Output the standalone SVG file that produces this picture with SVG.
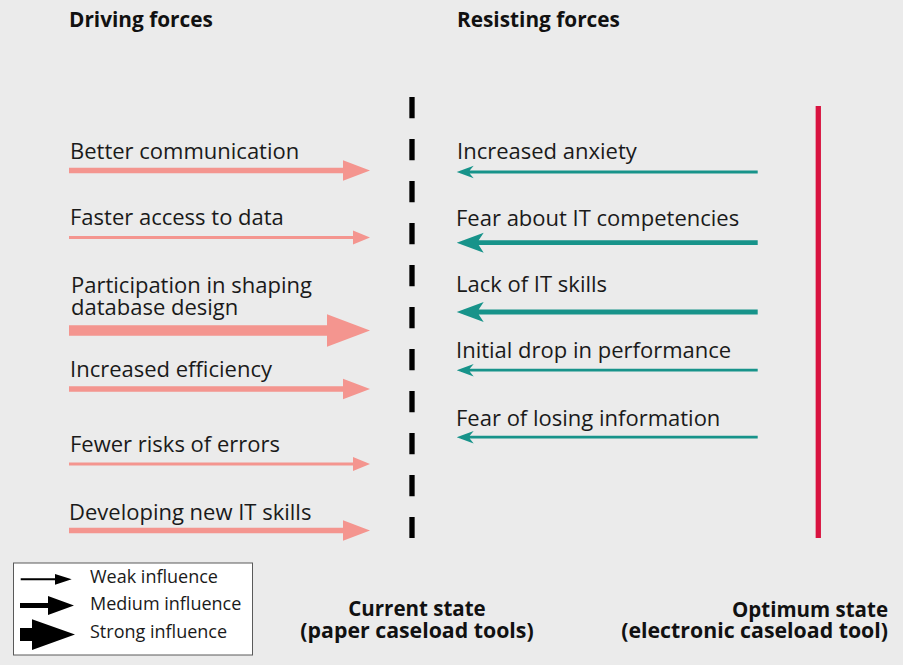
<svg xmlns="http://www.w3.org/2000/svg" xmlns:xlink="http://www.w3.org/1999/xlink" width="903" height="665" viewBox="0 0 903 665">
  <style>
    .lbl { font-family: "Open Sans", "Liberation Sans", sans-serif; font-size: 22px; fill: #1a1a1a; }
    .hdr { font-family: "Open Sans", "Liberation Sans", sans-serif; font-size: 20.8px; font-weight: bold; fill: #111; }
    .cap { font-family: "Open Sans", "Liberation Sans", sans-serif; font-size: 21.3px; font-weight: bold; fill: #111; }
    .leg { font-family: "Open Sans", "Liberation Sans", sans-serif; font-size: 18px; fill: #1a1a1a; }
    .drive { fill: #f4958f; }
    .resist { fill: #17938a; }
    .black { fill: #000; }
  </style>
  <defs>
    <!-- right-pointing arrows, tip at origin, 301px long -->
    <polygon id="pinkWeak" points="-301,-1.6 -17,-1.6 -17,-7 0,0 -17,7 -17,1.6 -301,1.6"/>
    <polygon id="pinkMed" points="-301,-2.8 -27,-2.8 -27,-10.3 0,0 -27,10.3 -27,2.8 -301,2.8"/>
    <polygon id="pinkStrong" points="-301,-5.3 -43,-5.3 -43,-16.2 0,0 -43,16.2 -43,5.3 -301,5.3"/>
    <!-- barbed heads for the resisting side -->
    <polygon id="tealWeak" points="-301,-1.4 -13,-1.4 -17,-6.3 0,0 -17,6.3 -13,1.4 -301,1.4"/>
    <polygon id="tealMed" points="-301,-2.4 -22,-2.4 -27,-10 0,0 -27,10 -22,2.4 -301,2.4"/>
  </defs>

  <rect x="0" y="0" width="903" height="665" fill="#ebebeb"/>

  <!-- column headings -->
  <text class="hdr" x="69" y="27">Driving forces</text>
  <text class="hdr" x="457" y="27">Resisting forces</text>

  <!-- state boundaries -->
  <g id="current-state-line">
    <line x1="412" y1="97" x2="412" y2="538" stroke="#000" stroke-width="5.3" stroke-dasharray="21.3 20.7"/>
  </g>
  <g id="optimum-state-line">
    <line x1="818.3" y1="106" x2="818.3" y2="538" stroke="#d91340" stroke-width="5.3"/>
  </g>

  <!-- driving forces -->
  <g id="drive-communication">
    <text class="lbl" x="70" y="159">Better communication</text>
  </g>
  <g id="drive-access">
    <text class="lbl" x="70" y="225">Faster access to data</text>
  </g>
  <g id="drive-participation">
    <text class="lbl" x="71" y="293">Participation in shaping<tspan x="71" dy="22">database design</tspan></text>
  </g>
  <g id="drive-efficiency">
    <text class="lbl" x="70" y="377">Increased efficiency</text>
  </g>
  <g id="drive-errors">
    <text class="lbl" x="70" y="452">Fewer risks of errors</text>
  </g>
  <g id="drive-skills">
    <text class="lbl" x="69" y="520">Developing new IT skills</text>
  </g>

  <!-- resisting forces -->
  <g id="resist-anxiety">
    <text class="lbl" x="457" y="159">Increased anxiety</text>
  </g>
  <g id="resist-competencies">
    <text class="lbl" x="456" y="226">Fear about IT competencies</text>
  </g>
  <g id="resist-skills">
    <text class="lbl" x="456" y="292">Lack of IT skills</text>
  </g>
  <g id="resist-performance">
    <text class="lbl" x="456" y="358">Initial drop in performance</text>
  </g>
  <g id="resist-information">
    <text class="lbl" x="456" y="426">Fear of losing information</text>
  </g>

  <!-- force arrows -->
  <g id="connectors">
    <use xlink:href="#pinkMed" class="drive" transform="translate(370,170.5)"/>
    <use xlink:href="#pinkWeak" class="drive" transform="translate(370,237.5)"/>
    <use xlink:href="#pinkStrong" class="drive" transform="translate(370,330.5)"/>
    <use xlink:href="#pinkMed" class="drive" transform="translate(370,389)"/>
    <use xlink:href="#pinkWeak" class="drive" transform="translate(370,464)"/>
    <use xlink:href="#pinkMed" class="drive" transform="translate(370,530.5)"/>

    <use xlink:href="#tealWeak" class="resist" transform="translate(456.7,172) scale(-1,1)"/>
    <use xlink:href="#tealMed" class="resist" transform="translate(456.7,242.7) scale(-1,1)"/>
    <use xlink:href="#tealMed" class="resist" transform="translate(456.7,312) scale(-1,1)"/>
    <use xlink:href="#tealWeak" class="resist" transform="translate(456.7,370.2) scale(-1,1)"/>
    <use xlink:href="#tealWeak" class="resist" transform="translate(456.7,437.2) scale(-1,1)"/>
  </g>

  <!-- key -->
  <g id="legend">
    <rect x="13.5" y="563" width="239" height="92" fill="#fff" stroke="#5a5a5a" stroke-width="1"/>
    <polygon class="black" points="20.7,578.3 55,578.3 55,574 71.7,579.3 55,584.7 55,580.3 20.7,580.3"/>
    <polygon class="black" points="20,603 48,603 48,596 74,605.5 48,615 48,608 20,608"/>
    <polygon class="black" points="20,628 32,628 32,619.3 75,634.5 32,650 32,641 20,641"/>
    <text class="leg" x="90" y="583">Weak influence</text>
    <text class="leg" x="90" y="610">Medium influence</text>
    <text class="leg" x="90" y="638">Strong influence</text>
  </g>

  <!-- state captions -->
  <g id="current-state">
    <text class="cap" x="417" y="616" text-anchor="middle"><tspan font-size="20.5px">Current state</tspan><tspan x="417" dy="22">(paper caseload tools)</tspan></text>
  </g>
  <g id="optimum-state">
    <text class="cap" x="888" y="617" text-anchor="end"><tspan font-size="20.5px">Optimum state</tspan><tspan x="888" dy="21">(electronic caseload tool)</tspan></text>
  </g>
</svg>
